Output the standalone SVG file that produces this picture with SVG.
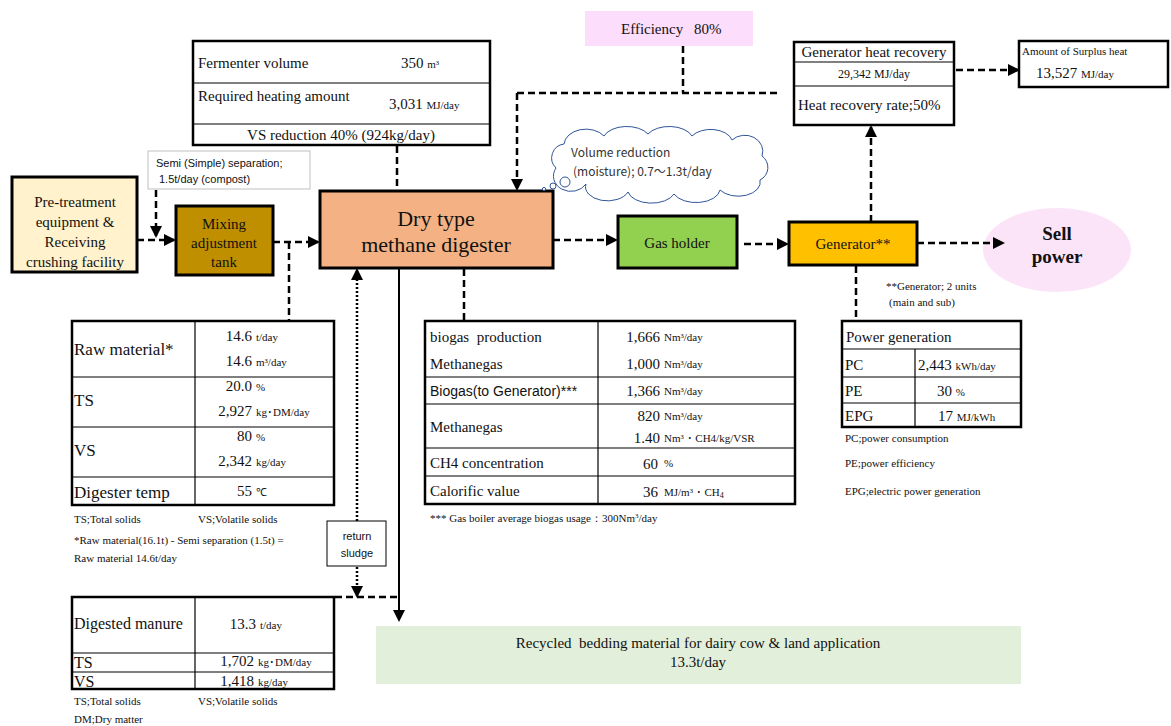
<svg xmlns="http://www.w3.org/2000/svg" width="1171" height="726" viewBox="0 0 1171 726">
<style>
text{font-family:"Liberation Serif","Times New Roman",serif;fill:#111;white-space:pre;}
.sans{font-family:"Liberation Sans",Arial,sans-serif;}
.cjk{font-family:"Noto Sans CJK JP","Liberation Sans",sans-serif;}
.box{stroke:#000;stroke-width:3;}
.tbl{fill:#fff;stroke:#000;stroke-width:2.5;}
.ln{stroke:#000;stroke-width:1.2;fill:none;}
.dash{stroke:#000;stroke-width:2.5;fill:none;stroke-dasharray:7 4;}
.dot{stroke:#000;stroke-width:2.5;fill:none;stroke-dasharray:2 2;}
.solid{stroke:#000;stroke-width:2;fill:none;}
.f15{font-size:15px;}
.f16{font-size:16px;}
.f17{font-size:17px;}
.u{font-size:11px;}
.n{font-size:11px;}
.c{text-anchor:middle;}
.r{text-anchor:end;}
</style>
<defs>
<marker id="ah" markerWidth="12" markerHeight="12" refX="10" refY="6" orient="auto" markerUnits="userSpaceOnUse">
<path d="M0,0 L12,6 L0,12 Z" fill="#000"/>
</marker>
</defs>
<rect width="1171" height="726" fill="#fff"/>

<g id="fermenter">
<rect class="tbl" x="193" y="41" width="297" height="104"/>
<line class="ln" x1="193" y1="83" x2="490" y2="83"/>
<line class="ln" x1="193" y1="124" x2="490" y2="124"/>
<text class="f15" x="198" y="68">Fermenter volume</text>
<text class="f15" x="401" y="68">350 <tspan class="u">m³</tspan></text>
<text class="f15" x="198" y="101">Required heating amount</text>
<text class="f15" x="389" y="109">3,031 <tspan class="u">MJ/day</tspan></text>
<text class="f15 c" x="341" y="140">VS reduction 40% (924kg/day)</text>
</g>

<g id="semi-separation">
<rect x="148" y="151" width="162" height="38" fill="#fff" stroke="#bfbfbf" stroke-width="1"/>
<text class="sans" font-size="11" x="156" y="167">Semi (Simple) separation;</text>
<text class="sans" font-size="11" x="159" y="183">1.5t/day (compost)</text>
</g>

<g id="pretreatment">
<rect class="box" x="12" y="177" width="125" height="95" fill="#FFF2CC"/>
<text class="f15 c" x="75" y="207">Pre-treatment</text>
<text class="f15 c" x="75" y="227">equipment &amp;</text>
<text class="f15 c" x="75" y="247">Receiving</text>
<text class="f15 c" x="75" y="267">crushing facility</text>
</g>

<g id="mixing">
<rect class="box" x="176" y="206" width="97" height="69" fill="#BF8F00"/>
<text class="f15 c" x="224" y="229">Mixing</text>
<text class="f15 c" x="224" y="248">adjustment</text>
<text class="f15 c" x="224" y="267">tank</text>
</g>

<g id="digester">
<rect class="box" x="320" y="191" width="233" height="77" fill="#F4B183"/>
<text class="c" font-size="22" x="436" y="226">Dry type</text>
<text class="c" font-size="22" x="436" y="252">methane digester</text>
</g>

<g id="cloud">
<path d="M556,168 a14,14 0 0 1 8,-24 a22,16 0 0 1 40,-8 a24,14 0 0 1 44,-2 a24,14 0 0 1 44,2 a22,14 0 0 1 40,4 a18,16 0 0 1 30,16 a14,14 0 0 1 -2,24 a22,14 0 0 1 -40,10 a24,14 0 0 1 -46,4 a24,14 0 0 1 -46,-2 a22,14 0 0 1 -42,-8 a16,14 0 0 1 -30,-16 Z" fill="#fff" stroke="#2F5597" stroke-width="1"/>
<circle cx="565" cy="182" r="5" fill="#fff" stroke="#2F5597" stroke-width="1"/>
<circle cx="553" cy="186" r="3" fill="#fff" stroke="#2F5597" stroke-width="1"/>
<circle cx="544" cy="189" r="1.6" fill="#fff" stroke="#2F5597" stroke-width="1"/>
<text class="cjk" font-size="12" x="571" y="157" style="fill:#333">Volume reduction</text>
<text class="cjk" font-size="12" x="573" y="176" style="fill:#333">(moisture); 0.7～1.3t/day</text>
</g>

<g id="efficiency">
<rect x="585" y="11" width="168" height="35" fill="#FCDDFB"/>
<text class="f15" x="621" y="34">Efficiency</text>
<text class="f15" x="694" y="34">80%</text>
</g>

<g id="gas-holder">
<rect class="box" x="618" y="216" width="119" height="52" fill="#92D050"/>
<text class="f15 c" x="677" y="248">Gas holder</text>
</g>

<g id="generator">
<rect class="box" x="789" y="222" width="128" height="43" fill="#FFC000"/>
<text class="f15 c" x="853" y="249">Generator**</text>
<text class="n" x="886" y="290">**Generator; 2 units</text>
<text class="n" x="889" y="306">(main and sub)</text>
</g>

<g id="sell-power">
<ellipse cx="1057" cy="250" rx="74" ry="42" fill="#FCE4F8"/>
<text class="c" font-size="19" font-weight="bold" x="1057" y="240">Sell</text>
<text class="c" font-size="19" font-weight="bold" x="1057" y="263">power</text>
</g>

<g id="heat-recovery">
<rect x="794" y="42" width="160" height="20" fill="#FF9999"/>
<rect class="tbl" x="794" y="42" width="160" height="83" fill="none"/>
<line class="ln" x1="794" y1="62" x2="954" y2="62"/>
<line class="ln" x1="794" y1="86" x2="954" y2="86"/>
<text class="f15 c" x="874" y="57">Generator heat recovery</text>
<text font-size="12" class="c" x="874" y="78">29,342 MJ/day</text>
<text class="f15" x="798" y="110">Heat recovery rate;50%</text>
</g>

<g id="surplus-heat">
<rect x="1019" y="41" width="149" height="19" fill="#FF9999"/>
<rect class="tbl" x="1019" y="41" width="149" height="46" fill="none"/>
<text font-size="11" x="1022" y="55">Amount of Surplus heat</text>
<text class="f15" x="1036" y="78">13,527 <tspan class="u">MJ/day</tspan></text>
</g>

<g id="raw-material">
<rect class="tbl" x="72" y="321" width="262" height="184"/>
<line class="ln" x1="195" y1="321" x2="195" y2="505"/>
<line class="ln" x1="72" y1="377" x2="334" y2="377"/>
<line class="ln" x1="72" y1="427" x2="334" y2="427"/>
<line class="ln" x1="72" y1="477" x2="334" y2="477"/>
<text class="f17" x="74" y="355">Raw material*</text>
<text class="f15 r" x="252" y="341">14.6</text><text class="u" x="256" y="341">t/day</text>
<text class="f15 r" x="252" y="366">14.6</text><text class="u" x="256" y="366">m³/day</text>
<text class="f17" x="74" y="406">TS</text>
<text class="f15 r" x="252" y="391">20.0</text><text class="u" x="256" y="391">%</text>
<text class="f15 r" x="252" y="416">2,927</text><text class="u" x="256" y="416">kg･DM/day</text>
<text class="f17" x="74" y="456">VS</text>
<text class="f15 r" x="252" y="441">80</text><text class="u" x="256" y="441">%</text>
<text class="f15 r" x="252" y="466">2,342</text><text class="u" x="256" y="466">kg/day</text>
<text class="f17" x="74" y="498">Digester temp</text>
<text class="f15 r" x="252" y="496">55</text><text class="u" x="256" y="496">℃</text>
<text class="n" x="74" y="523">TS;Total solids</text>
<text class="n" x="198" y="523">VS;Volatile solids</text>
<text class="n" x="74" y="544">*Raw material(16.1t) - Semi separation (1.5t) =</text>
<text class="n" x="74" y="562">Raw material 14.6t/day</text>
</g>

<g id="return-sludge">
<rect x="327" y="521" width="59" height="45" fill="#fff" stroke="#000" stroke-width="1"/>
<text class="sans c" font-size="11" x="357" y="540">return</text>
<text class="sans c" font-size="11" x="357" y="557">sludge</text>
</g>

<g id="digested-manure">
<rect class="tbl" x="72" y="597" width="262" height="92"/>
<line class="ln" x1="195" y1="597" x2="195" y2="689"/>
<line class="ln" x1="72" y1="653" x2="334" y2="653"/>
<line class="ln" x1="72" y1="672" x2="334" y2="672"/>
<text class="f16" x="74" y="629">Digested manure</text>
<text class="f15 r" x="256" y="629">13.3</text><text class="u" x="260" y="629">t/day</text>
<text class="f16" x="74" y="668">TS</text>
<text class="f15 r" x="254" y="666">1,702</text><text class="u" x="258" y="666">kg･DM/day</text>
<text class="f16" x="74" y="687">VS</text>
<text class="f15 r" x="254" y="686">1,418</text><text class="u" x="258" y="686">kg/day</text>
<text class="n" x="74" y="705">TS;Total solids</text>
<text class="n" x="198" y="705">VS;Volatile solids</text>
<text class="n" x="74" y="723">DM;Dry matter</text>
</g>

<g id="recycled">
<rect x="376" y="626" width="645" height="58" fill="#E2EFDA"/>
<text class="f15 c" x="698" y="648">Recycled  bedding material for dairy cow &amp; land application</text>
<text class="f15 c" x="698" y="667">13.3t/day</text>
</g>

<g id="biogas">
<rect class="tbl" x="425" y="321" width="370" height="183"/>
<line class="ln" x1="598" y1="321" x2="598" y2="504"/>
<line class="ln" x1="425" y1="377" x2="795" y2="377"/>
<line class="ln" x1="425" y1="404" x2="795" y2="404"/>
<line class="ln" x1="425" y1="448" x2="795" y2="448"/>
<line class="ln" x1="425" y1="476" x2="795" y2="476"/>
<text class="f15" x="430" y="342">biogas  production</text>
<text class="f15" x="430" y="369">Methanegas</text>
<text class="sans" font-size="14" x="430" y="396">Biogas(to Generator)***</text>
<text class="f15" x="430" y="432">Methanegas</text>
<text class="f15" x="430" y="468">CH4 concentration</text>
<text class="f15" x="430" y="496">Calorific value</text>
<text class="f15 r" x="660" y="342">1,666</text><text class="u" x="664" y="341">Nm³/day</text>
<text class="f15 r" x="660" y="369">1,000</text><text class="u" x="664" y="368">Nm³/day</text>
<text class="f15 r" x="660" y="396">1,366</text><text class="u" x="664" y="395">Nm³/day</text>
<text class="f15 r" x="660" y="421">820</text><text class="u" x="664" y="420">Nm³/day</text>
<text class="f15 r" x="660" y="443">1.40</text><text class="u" x="664" y="442">Nm³ ･ CH4/kg/VSR</text>
<text class="f15 r" x="658" y="469">60</text><text class="u" x="664" y="467">%</text>
<text class="f15 r" x="658" y="497">36</text><text class="u" x="664" y="496">MJ/m³ ･ CH<tspan font-size="8" dy="2">4</tspan></text>
<text class="n" x="430" y="522">*** Gas boiler average biogas usage：300Nm<tspan font-size="7" dy="-4">3</tspan><tspan dy="4">/day</tspan></text>
</g>

<g id="power-generation">
<rect x="842" y="321" width="179" height="28" fill="#FFFF00"/>
<rect class="tbl" x="842" y="321" width="179" height="106" fill="none"/>
<line class="ln" x1="842" y1="349" x2="1021" y2="349"/>
<line class="ln" x1="842" y1="377" x2="1021" y2="377"/>
<line class="ln" x1="842" y1="403" x2="1021" y2="403"/>
<line class="ln" x1="915" y1="349" x2="915" y2="427"/>
<text class="f15" x="846" y="342">Power generation</text>
<text class="f15" x="845" y="370">PC</text>
<text class="f15" x="845" y="396">PE</text>
<text class="f15" x="845" y="421">EPG</text>
<text class="f15" x="918" y="370">2,443 <tspan class="u">kWh/day</tspan></text>
<text class="f15" x="937" y="396">30 <tspan class="u">%</tspan></text>
<text class="f15" x="938" y="421">17 <tspan class="u">MJ/kWh</tspan></text>
<text class="n" x="845" y="442">PC;power consumption</text>
<text class="n" x="845" y="467">PE;power efficiency</text>
<text class="n" x="845" y="495">EPG;electric power generation</text>
</g>

<g id="connectors">
<path class="dash" d="M137,240 H174" marker-end="url(#ah)"/>
<path class="dash" d="M156,190 V236" marker-end="url(#ah)"/>
<path class="dash" d="M273,242 H318" marker-end="url(#ah)"/>
<path class="dash" d="M289,242 V320"/>
<path class="dash" d="M397,146 V191"/>
<path class="dash" d="M683,46 V93"/>
<path class="dash" d="M517,93 H778"/>
<path class="dash" d="M517,93 V189" marker-end="url(#ah)"/>
<path class="dash" d="M553,240 H616" marker-end="url(#ah)"/>
<path class="dash" d="M744,244 H787" marker-end="url(#ah)"/>
<path class="dash" d="M917,243 H1003" marker-end="url(#ah)"/>
<path class="dash" d="M871,222 V127" marker-end="url(#ah)"/>
<path class="dash" d="M956,70 H1018" marker-end="url(#ah)"/>
<path class="dash" d="M856,266 V320"/>
<path class="dash" d="M464,269 V320"/>
<path class="dot" d="M357,521 V270" marker-end="url(#ah)"/>
<path class="dot" d="M357,567 V596" marker-end="url(#ah)"/>
<path class="solid" d="M399,269 V620" marker-end="url(#ah)"/>
<path class="dash" d="M335,597 H399"/>
</g>
</svg>
